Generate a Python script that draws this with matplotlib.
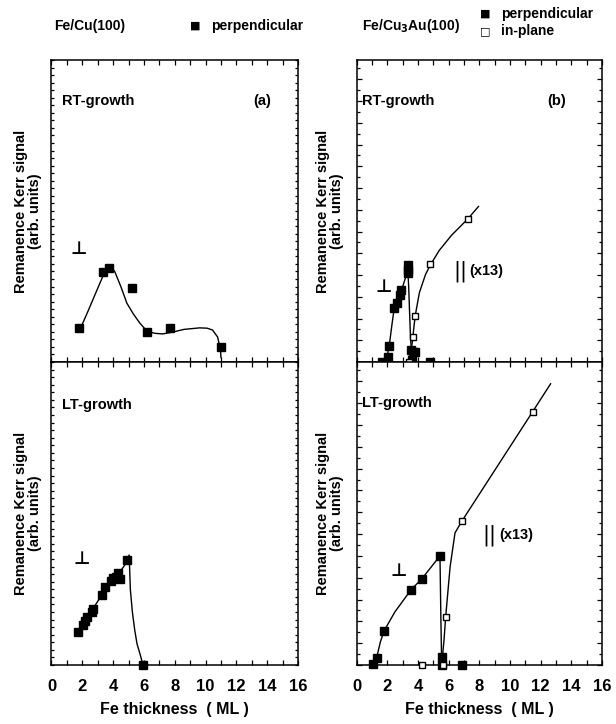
import matplotlib
matplotlib.use('Agg')
import matplotlib.pyplot as plt
from matplotlib.ticker import MultipleLocator

plt.rcParams['font.family'] = ['Liberation Sans', 'DejaVu Sans']
plt.rcParams['font.weight'] = 'bold'

# ── data (Fe thickness in ML, Kerr signal in arb. units) ─────────────────────
# (a) Fe/Cu(100), RT-growth
a_perp_x = [1.78, 3.33, 3.72, 5.2, 6.18, 7.67, 10.97]
a_perp_y = [1.13, 2.98, 3.11, 2.45, 0.99, 1.13, 0.5]
a_fit_x = [1.78, 2.3, 2.8, 3.3, 3.55, 3.72, 3.9, 4.1, 4.5, 4.89, 5.3, 5.73,
           6.18, 6.7, 7.22, 7.86, 8.6, 9.61, 10.1, 10.45, 10.78, 10.97, 11.0]
a_fit_y = [1.0, 1.6, 2.2, 2.8, 3.05, 3.15, 3.12, 3.0, 2.5, 1.95, 1.6, 1.29,
           1.03, 0.95, 0.93, 0.99, 1.08, 1.13, 1.12, 1.06, 0.83, 0.4, 0.15]

# (a) Fe/Cu(100), LT-growth
c_perp_x = [1.74, 2.06, 2.17, 2.28, 2.6, 2.71, 3.25, 3.46, 3.83, 4.0, 4.17,
            4.33, 4.43, 4.91, 5.94]
c_perp_y = [1.1, 1.32, 1.45, 1.6, 1.76, 1.85, 2.31, 2.58, 2.77, 2.86, 2.89,
            3.05, 2.83, 3.47, 0.0]
c_fit_x = [1.74, 2.3, 3.0, 3.5, 4.2, 4.9, 5.04, 5.12, 5.25, 5.4, 5.55, 5.73, 5.94]
c_fit_y = [1.0, 1.55, 2.1, 2.5, 2.9, 3.4, 3.63, 2.48, 1.75, 1.16, 0.7, 0.39, 0.0]

# (b) Fe/Cu3Au(100), RT-growth
b_perp_x = [1.64, 2.07, 2.14, 2.44, 2.62, 2.83, 2.9, 3.33, 3.33, 3.33, 3.53,
            3.66, 3.81, 3.6, 4.79]
b_perp_y = [0.0, 0.18, 0.54, 1.8, 1.96, 2.22, 2.38, 2.94, 3.05, 3.21, 0.4,
            0.34, 0.34, 0.07, 0.0]
b_inpl_x = [3.42, 3.7, 3.81, 4.79, 7.24]
b_inpl_y = [0.0, 0.84, 1.52, 3.23, 4.73]
b_perp_fit_x = [1.75, 2.0, 2.15, 2.3, 2.45, 2.7, 2.95, 3.2, 3.33, 3.4, 3.47,
                3.52, 3.57]
b_perp_fit_y = [0.0, 0.2, 0.6, 1.2, 1.75, 2.1, 2.4, 2.8, 3.2, 2.5, 1.5, 0.8, 0.45]
b_inpl_fit_x = [3.57, 3.65, 3.75, 3.85, 4.1, 4.5, 4.8, 5.4, 6.2, 7.24, 7.95]
b_inpl_fit_y = [0.45, 0.7, 1.2, 1.6, 2.3, 2.9, 3.2, 3.7, 4.2, 4.73, 5.15]

# (b) Fe/Cu3Au(100), LT-growth
d_perp_x = [1.06, 1.32, 1.79, 3.55, 4.25, 5.44, 5.55, 5.55, 6.87]
d_perp_y = [0.03, 0.23, 1.12, 2.48, 2.84, 3.6, 0.26, 0.0, 0.0]
d_inpl_x = [4.25, 5.64, 5.81, 6.87, 11.48]
d_inpl_y = [0.0, 0.0, 1.58, 4.75, 8.36]
d_perp_fit_x = [1.0, 1.32, 1.55, 1.79, 2.5, 3.55, 4.25, 5.44, 5.5, 5.55]
d_perp_fit_y = [0.0, 0.25, 0.75, 1.12, 1.75, 2.48, 2.84, 3.6, 1.5, 0.1]
d_inpl_fit_x = [5.55, 5.7, 5.81, 6.1, 6.42, 6.87, 11.48, 12.65]
d_inpl_fit_y = [0.0, 0.8, 1.58, 3.24, 4.36, 4.75, 8.36, 9.28]

X_TICKS = [0, 2, 4, 6, 8, 10, 12, 14, 16]
YLABEL = 'Remanence Kerr signal\n(arb. units)'

# ── figure layout (pixel-matched to 616x724) ─────────────────────────────────
W, H = 616, 724
fig = plt.figure(figsize=(W / 100, H / 100), dpi=100)

def px_axes(x0, x1, y0, y1):
    return fig.add_axes([x0 / W, 1 - y1 / H, (x1 - x0) / W, (y1 - y0) / H])

ax_a = px_axes(51.5, 298, 60, 362)
ax_c = px_axes(51.5, 298, 362, 665)
ax_b = px_axes(356.5, 602, 60, 362)
ax_d = px_axes(356.5, 602, 362, 665)

def style(ax, left, bottom):
    ax.set_xlim(0, 16)
    ax.set_ylim(0, 10)
    for sp in ax.spines.values():
        sp.set_linewidth(1.1)
    ax.xaxis.set_major_locator(MultipleLocator(1))
    if left:
        ax.yaxis.set_major_locator(MultipleLocator(0.25))
        ax.tick_params(axis='y', which='major', length=2.5)
    else:
        ax.yaxis.set_major_locator(MultipleLocator(0.72))
        ax.yaxis.set_minor_locator(MultipleLocator(0.36))
        ax.tick_params(axis='y', which='major', length=3.5)
        ax.tick_params(axis='y', which='minor', length=2)
    ax.tick_params(axis='both', which='both', direction='in', top=True,
                   right=True, labelleft=False, width=0.9)
    ax.tick_params(axis='x', which='major', length=3.5)
    if bottom:
        ax.set_xticks(X_TICKS + [1, 3, 5, 7, 9, 11, 13, 15])
        ax.set_xticklabels([str(t) for t in X_TICKS] + [''] * 8)
        ax.tick_params(axis='x', labelsize=12, pad=10)
        ax.set_xlabel('Fe thickness  ( ML )', fontsize=11.5, fontweight='bold',
                      labelpad=6)
    else:
        ax.tick_params(axis='x', labelbottom=False)
    ax.set_ylabel(YLABEL, fontsize=10.5, fontweight='bold',
                  labelpad=7 if left else 9, linespacing=1.0)

style(ax_a, True, False)
style(ax_c, True, True)
style(ax_b, False, False)
style(ax_d, False, True)

LW = 1.0
sq_f = dict(marker='s', ms=6, color='black', linestyle='none', clip_on=False, zorder=3)
sq_o = dict(marker='s', ms=5, mfc='white', mec='black', mew=1.0, linestyle='none',
            clip_on=False, zorder=4)

ax_a.plot(a_fit_x, a_fit_y, color='black', lw=LW)
ax_a.plot(a_perp_x, a_perp_y, **sq_f)

ax_c.plot(c_fit_x, c_fit_y, color='black', lw=LW)
ax_c.plot(c_perp_x, c_perp_y, **sq_f)

ax_b.plot(b_perp_fit_x, b_perp_fit_y, color='black', lw=LW)
ax_b.plot(b_inpl_fit_x, b_inpl_fit_y, color='black', lw=LW)
ax_b.plot(b_perp_x, b_perp_y, **sq_f)
ax_b.plot(b_inpl_x, b_inpl_y, **sq_o)

ax_d.plot(d_perp_fit_x, d_perp_fit_y, color='black', lw=LW)
ax_d.plot(d_inpl_fit_x, d_inpl_fit_y, color='black', lw=LW)
ax_d.plot(d_perp_x, d_perp_y, **sq_f)
ax_d.plot(d_inpl_x, d_inpl_y, **sq_o)

# ── in-panel labels ──────────────────────────────────────────────────────────
def atext(ax, x, y, s, size=10.5, ha='left', family=None, weight='bold'):
    kw = dict(transform=ax.transAxes, fontsize=size, fontweight=weight,
              ha=ha, va='center')
    if family:
        kw['family'] = family
    ax.text(x, y, s, **kw)

atext(ax_a, 0.043, 0.865, 'RT-growth')
atext(ax_a, 0.854, 0.865, '(a)', ha='center')
atext(ax_a, 0.112, 0.375, '⊥', size=13, ha='center', family='DejaVu Sans')

atext(ax_c, 0.043, 0.858, 'LT-growth')
atext(ax_c, 0.122, 0.35, '⊥', size=13, ha='center', family='DejaVu Sans')

atext(ax_b, 0.022, 0.865, 'RT-growth')
atext(ax_b, 0.815, 0.865, '(b)', ha='center')
atext(ax_b, 0.112, 0.25, '⊥', size=13, ha='center', family='DejaVu Sans')
atext(ax_b, 0.425, 0.302, '||', size=15, ha='center', family='DejaVu Sans',
      weight='normal')
atext(ax_b, 0.46, 0.302, '(x13)', size=10.5)

atext(ax_d, 0.54, 0.429, '||', size=15, ha='center', family='DejaVu Sans',
      weight='normal')
atext(ax_d, 0.58, 0.429, '(x13)', size=10.5)
atext(ax_d, 0.021, 0.864, 'LT-growth')
atext(ax_d, 0.173, 0.31, '⊥', size=13, ha='center', family='DejaVu Sans')

# ── header legends ───────────────────────────────────────────────────────────
def ftext(x, y, s, size=10, ha='left', family=None):
    kw = dict(fontsize=size, fontweight='bold', ha=ha, va='center')
    if family:
        kw['family'] = family
    fig.text(x / W, 1 - y / H, s, **kw)

ftext(54, 26, 'Fe/Cu(100)')
ftext(195, 26, '■', size=8, ha='center', family='DejaVu Sans')
ftext(211, 26, 'perpendicular')
ftext(362, 26, 'Fe/Cu$_\\mathbf{3}$Au(100)')
ftext(485, 14, '■', size=8, ha='center', family='DejaVu Sans')
ftext(501, 14, 'perpendicular')
ftext(485, 31, '□', size=8, ha='center', family='DejaVu Sans')
ftext(501, 31, 'in-plane')

fig.savefig('out.png', dpi=100)
